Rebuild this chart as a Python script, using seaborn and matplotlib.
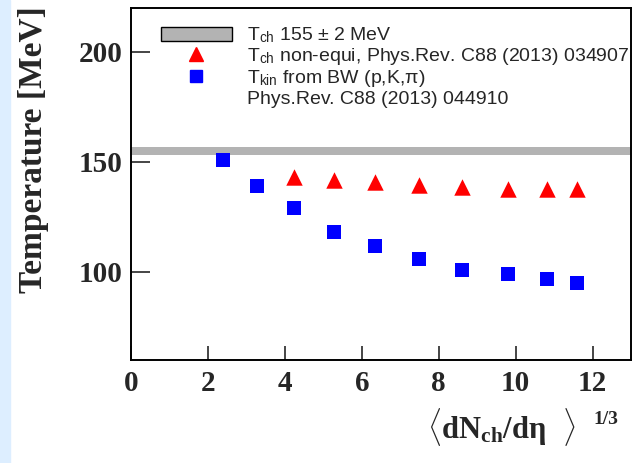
import numpy as np
import pandas as pd
import matplotlib
matplotlib.use("Agg")
import matplotlib.pyplot as plt
import seaborn as sns
from matplotlib.patches import Rectangle
from matplotlib.lines import Line2D

# values
tch_band = 155.0
tch_err = 2.0

tch_x = [4.23, 5.28, 6.35, 7.48, 8.60, 9.81, 10.81, 11.60]
tch_y = [143.0, 141.7, 140.8, 139.7, 138.8, 137.7, 137.7, 137.7]

tkin_x = [2.39, 3.28, 4.23, 5.28, 6.35, 7.48, 8.60, 9.81, 10.81, 11.60]
tkin_y = [151.0, 139.0, 129.0, 118.0, 112.0, 106.0, 101.0, 99.0, 97.0, 95.0]

x_ticks = [0, 2, 4, 6, 8, 10, 12]
y_ticks = [100, 150, 200]

legend_labels = [
    r"T$_{\rm ch}$ 155 ± 2 MeV",
    r"T$_{\rm ch}$ non-equi, Phys.Rev. C88 (2013) 034907",
    r"T$_{\rm kin}$ from BW (p,K,π)",
    "Phys.Rev. C88 (2013) 044910",
]

sns.set_style("ticks")
plt.rcParams["font.family"] = ["Liberation Sans", "DejaVu Sans"]
plt.rcParams["mathtext.fontset"] = "custom"
plt.rcParams["mathtext.rm"] = "Liberation Sans"
plt.rcParams["mathtext.bf"] = "Liberation Serif:bold"
plt.rcParams["mathtext.it"] = "Liberation Serif:bold"

fig = plt.figure(figsize=(6.33, 4.63), dpi=100)
ax = fig.add_axes([131 / 633, 1 - 360 / 463, 500 / 633, 352 / 463])

# light-blue strip on the left edge of the picture
fig.patches.append(Rectangle((0, 0), 10 / 633, 1, transform=fig.transFigure,
                             color="#ddeeff", zorder=0))

ax.axhspan(tch_band - tch_err, tch_band + tch_err, color="#b3b3b3", lw=0, zorder=1)

df_ch = pd.DataFrame({"x": tch_x, "y": tch_y})
df_kin = pd.DataFrame({"x": tkin_x, "y": tkin_y})
sns.scatterplot(data=df_ch, x="x", y="y", marker="^", color="#ff0000",
                s=140, linewidth=0, ax=ax, zorder=3)
sns.scatterplot(data=df_kin, x="x", y="y", marker="s", color="#0000ff",
                s=115, linewidth=0, ax=ax, zorder=3)

ax.set_xlim(0, 13)
ax.set_ylim(60, 220)
ax.set_xticks(x_ticks)
ax.set_yticks(y_ticks)
ax.set_xlabel("")
ax.set_ylabel("")
for sp in ax.spines.values():
    sp.set_linewidth(1.4)
    sp.set_color("black")

ax.tick_params(axis="x", direction="in", length=10, width=1.2, pad=7,
               top=False, labelsize=21)
ax.tick_params(axis="y", direction="in", length=14, width=1.2, pad=6,
               right=False, labelsize=21)
for lab in ax.get_xticklabels() + ax.get_yticklabels():
    lab.set_family("Liberation Serif")
    lab.set_fontweight("bold")

fig.text(33.5 / 633, 1 - 150 / 463, "Temperature [MeV]", rotation=90,
         ha="center", va="center", family="Liberation Serif",
         fontweight="bold", fontsize=24)
fig.text(576 / 633, 1 - 438 / 463, r"$\langle\mathbf{dN_{ch}/d}\eta\ \ \rangle$",
         ha="right", va="baseline", fontsize=22)
fig.text(606 / 633, 1 - 420 / 463, "1/3", ha="center", va="center",
         family="Liberation Serif", fontweight="bold", fontsize=14)

handles = [
    Rectangle((0, 0), 1, 1, facecolor="#b3b3b3", edgecolor="black", lw=1),
    Line2D([], [], marker="^", color="#ff0000", ls="", markersize=10),
    Line2D([], [], marker="s", color="#0000ff", ls="", markersize=9),
    Line2D([], [], ls="", marker=""),
]
ax.legend(handles, legend_labels, loc="upper left", bbox_to_anchor=(0.06, 0.95),
          frameon=False, fontsize=14, handlelength=3.65, handleheight=0.77,
          handletextpad=0.77, labelspacing=0.05, borderaxespad=0, borderpad=0)

fig.savefig("out.png", dpi=100)
